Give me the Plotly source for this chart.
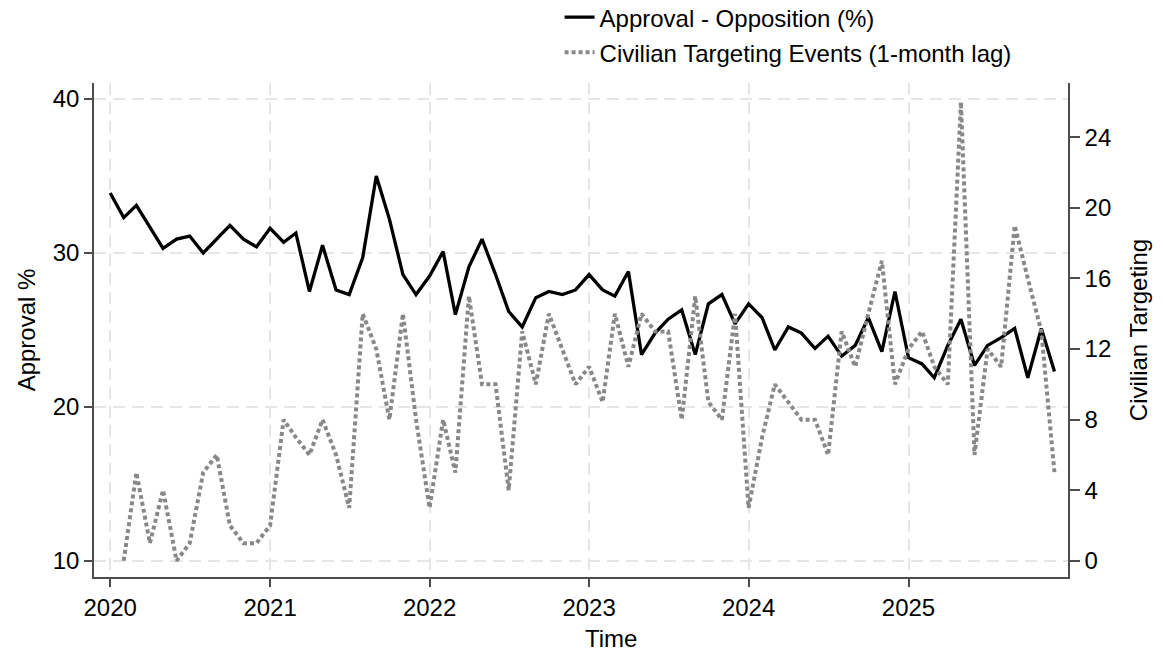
import pandas as pd
import plotly.graph_objects as go

# Monthly series, Jan 2020 - Dec 2025
months = pd.date_range("2020-01-01", periods=72, freq="MS")

approval = [
    33.9, 32.3, 33.1, 31.7, 30.3, 30.9, 31.1, 30.0, 30.9, 31.8, 30.9, 30.4,  # 2020
    31.6, 30.7, 31.3, 27.5, 30.5, 27.6, 27.3, 29.7, 35.0, 32.2, 28.6, 27.3,  # 2021
    28.5, 30.1, 26.0, 29.1, 30.9, 28.6, 26.2, 25.2, 27.1, 27.5, 27.3, 27.6,  # 2022
    28.6, 27.6, 27.2, 28.8, 23.4, 24.8, 25.7, 26.3, 23.4, 26.7, 27.3, 25.4,  # 2023
    26.7, 25.8, 23.7, 25.2, 24.8, 23.8, 24.6, 23.3, 24.0, 25.8, 23.6, 27.5,  # 2024
    23.2, 22.8, 21.9, 24.0, 25.7, 22.7, 24.0, 24.5, 25.1, 21.9, 25.1, 22.3,  # 2025
]

# Civilian targeting events, lagged one month (first month has no value)
civilian_lag = [
    None, 0, 5, 1, 4, 0, 1, 5, 6, 2, 1, 1,      # 2020
    2, 8, 7, 6, 8, 6, 3, 14, 12, 8, 14, 8,      # 2021
    3, 8, 5, 15, 10, 10, 4, 13, 10, 14, 12, 10, # 2022
    11, 9, 14, 11, 14, 13, 13, 8, 15, 9, 8, 14, # 2023
    3, 7, 10, 9, 8, 8, 6, 13, 11, 14, 17, 10,   # 2024
    12, 13, 11, 10, 26, 6, 12, 11, 19, 16, 13, 5, # 2025
]

year_ticks = ["2020-01-01", "2021-01-01", "2022-01-01",
              "2023-01-01", "2024-01-01", "2025-01-01"]
year_labels = ["2020", "2021", "2022", "2023", "2024", "2025"]
left_ticks = [10, 20, 30, 40]
right_ticks = [0, 4, 8, 12, 16, 20, 24]

FONT = "Liberation Sans, Arial, sans-serif"
AXIS_COLOR = "#4d4d4d"
GRID_COLOR = "#e6e6e6"
TEXT_SIZE = 24

fig = go.Figure()

fig.add_trace(go.Scatter(
    x=months, y=civilian_lag, yaxis="y2", mode="lines",
    name="Civilian Targeting Events (1-month lag)",
    line=dict(color="#888888", width=4, dash="4px,3px"),
    legendrank=2, legendgroup="b",
))
fig.add_trace(go.Scatter(
    x=months, y=approval, mode="lines",
    name="Approval - Opposition (%)",
    line=dict(color="black", width=3.3),
    legendrank=1, legendgroup="a",
))

# x-axis title, set slightly right of the plot centre
fig.add_annotation(
    text="Time", xref="paper", yref="paper", x=0.531, y=-0.1235,
    xanchor="center", yanchor="middle", showarrow=False,
    font=dict(size=TEXT_SIZE),
)

fig.update_layout(
    width=1163, height=651,
    margin=dict(l=94, r=95, t=83, b=74, autoexpand=False),
    paper_bgcolor="white", plot_bgcolor="white",
    font=dict(family=FONT, size=TEXT_SIZE, color="black"),
    showlegend=True,
    legend=dict(
        x=0.478, y=1.178, xanchor="left", yanchor="top",
        bgcolor="rgba(0,0,0,0)", font=dict(size=TEXT_SIZE),
        tracegroupgap=1,
    ),
    xaxis=dict(
        range=["2019-11-25", "2026-01-01"],
        tickvals=year_ticks, ticktext=year_labels,
        ticks="outside", ticklen=8, tickwidth=1.5, tickcolor=AXIS_COLOR,
        showline=True, linecolor=AXIS_COLOR, linewidth=1.5, mirror=False,
        showgrid=True, gridcolor=GRID_COLOR, gridwidth=1.5, griddash="12px,7px",
        zeroline=False,
        tickfont=dict(size=TEXT_SIZE),
    ),
    yaxis=dict(
        range=[8.96, 41.04],
        tickvals=left_ticks,
        ticks="outside", ticklen=8, tickwidth=1.5, tickcolor=AXIS_COLOR,
        showline=True, linecolor=AXIS_COLOR, linewidth=1.5,
        showgrid=True, gridcolor=GRID_COLOR, gridwidth=1.5, griddash="12px,7px",
        zeroline=False,
        title=dict(text="Approval %", standoff=10, font=dict(size=TEXT_SIZE)),
        tickfont=dict(size=TEXT_SIZE),
    ),
    yaxis2=dict(
        range=[-0.92, 27.08],
        tickvals=right_ticks,
        overlaying="y", side="right",
        ticks="outside", ticklen=10, tickwidth=1.5, tickcolor=AXIS_COLOR,
        showline=True, linecolor=AXIS_COLOR, linewidth=1.5,
        showgrid=False, zeroline=False,
        title=dict(text="Civilian Targeting", standoff=20, font=dict(size=TEXT_SIZE)),
        tickfont=dict(size=TEXT_SIZE),
    ),
)

fig.write_html("out.html")
